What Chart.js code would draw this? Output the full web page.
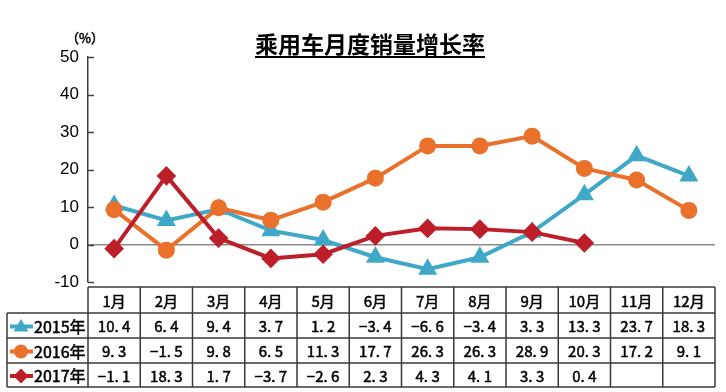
<!DOCTYPE html>
<html>
<head>
<meta charset="utf-8">
<script src="https://cdn.jsdelivr.net/npm/chart.js@4/dist/chart.umd.min.js"></script>
<style>
  html, body { margin: 0; padding: 0; background: #fff; }
  #wrap { width: 726px; height: 392px; }
</style>
</head>
<body>
<div id="wrap"><canvas id="chart" width="726" height="392"></canvas></div>
<script>
const months = ['1月', '2月', '3月', '4月', '5月', '6月', '7月', '8月', '9月', '10月', '11月', '12月'];
const sales2015 = [10.4, 6.4, 9.4, 3.7, 1.2, -3.4, -6.6, -3.4, 3.3, 13.3, 23.7, 18.3];
const sales2016 = [9.3, -1.5, 9.8, 6.5, 11.3, 17.7, 26.3, 26.3, 28.9, 20.3, 17.2, 9.1];
const sales2017 = [-1.1, 18.3, 1.7, -3.7, -2.6, 2.3, 4.3, 4.1, 3.3, 0.4, null, null];
const seriesNames = ['2015年', '2016年', '2017年'];
const yTicks = [50, 40, 30, 20, 10, 0, -10];

const teal = '#3fa8c6';
const orange = '#e9712b';
const red = '#bd1f2a';
const font = '"Noto Sans CJK SC", "Liberation Sans", sans-serif';

// draw one legend marker by hand in the table's first column
function drawMarker(ctx, style, x, y, color) {
  ctx.fillStyle = color;
  ctx.beginPath();
  if (style === 'triangle') {
    ctx.moveTo(x, y - 7.5);
    ctx.lineTo(x + 7.5, y + 5);
    ctx.lineTo(x - 7.5, y + 5);
  } else if (style === 'circle') {
    ctx.arc(x, y, 7, 0, Math.PI * 2);
  } else {
    ctx.moveTo(x, y - 7.5);
    ctx.lineTo(x + 7.5, y);
    ctx.lineTo(x, y + 7.5);
    ctx.lineTo(x - 7.5, y);
  }
  ctx.closePath();
  ctx.fill();
}

// text with a thin outline so it reads a bit heavier than regular
function heavyText(ctx, s, x, y) {
  ctx.fillText(s, x, y);
  ctx.lineWidth = 0.5;
  ctx.strokeStyle = '#000';
  ctx.strokeText(s, x, y);
}

const tablePlugin = {
  id: 'tablePlugin',
  afterDraw(chart) {
    const { ctx, chartArea, scales } = chart;
    const xs = scales.x, ys = scales.y;
    const colW = chartArea.width / months.length;

    ctx.save();

    // title with underline
    ctx.fillStyle = '#000';
    ctx.font = 'bold 23px ' + font;
    ctx.textAlign = 'center';
    ctx.textBaseline = 'alphabetic';
    const title = '乘用车月度销量增长率';
    const tx = 370;
    ctx.fillText(title, tx, 53);
    const tw = ctx.measureText(title).width;
    ctx.fillRect(tx - tw / 2, 56, tw, 2);

    // unit label
    ctx.font = '13px ' + font;
    heavyText(ctx, '（%）', chartArea.left - 3, 43);

    // inner tick marks on y axis
    ctx.strokeStyle = '#404040';
    ctx.lineWidth = 1.5;
    yTicks.forEach(v => {
      const y = Math.round(ys.getPixelForValue(v)) + 0.5;
      ctx.beginPath();
      ctx.moveTo(chartArea.left, y);
      ctx.lineTo(chartArea.left + 6, y);
      ctx.stroke();
    });

    // data table
    const rowTop = [287, 313, 338, 363];
    const rowBottom = 387;
    const labelLeft = 7;
    const left = chartArea.left, right = chartArea.right;
    ctx.strokeStyle = '#3a3a3a';
    ctx.lineWidth = 1.5;
    ctx.beginPath();
    ctx.moveTo(left, rowTop[0]); ctx.lineTo(right, rowTop[0]);
    for (let r = 1; r < rowTop.length; r++) {
      ctx.moveTo(labelLeft, rowTop[r]); ctx.lineTo(right, rowTop[r]);
    }
    ctx.moveTo(labelLeft, rowBottom); ctx.lineTo(right, rowBottom);
    ctx.moveTo(labelLeft, rowTop[1]); ctx.lineTo(labelLeft, rowBottom);
    for (let i = 0; i <= months.length; i++) {
      const x = left + i * colW;
      ctx.moveTo(x, rowTop[0]); ctx.lineTo(x, rowBottom);
    }
    ctx.stroke();

    ctx.fillStyle = '#000';
    ctx.textAlign = 'center';
    ctx.textBaseline = 'middle';
    ctx.font = '15px ' + font;
    months.forEach((m, i) => {
      heavyText(ctx, m, xs.getPixelForValue(i), (rowTop[0] + rowTop[1]) / 2 + 1);
    });

    const rows = [sales2015, sales2016, sales2017];
    const colors = [teal, orange, red];
    const styles = ['triangle', 'circle', 'rectRot'];
    rows.forEach((vals, r) => {
      const yTop = rowTop[r + 1];
      const yBot = r + 2 < rowTop.length ? rowTop[r + 2] : rowBottom;
      const cy = (yTop + yBot) / 2 + 1;
      ctx.font = '15px ' + font;
      ctx.fillStyle = '#000';
      vals.forEach((v, i) => {
        if (v === null) return;
        const s = (v < 0 ? '\u2212' : '') + Math.abs(v).toFixed(1).replace('.', '. ');
        heavyText(ctx, s, xs.getPixelForValue(i), cy);
      });
      // legend key
      ctx.strokeStyle = colors[r];
      ctx.lineWidth = 4;
      ctx.beginPath();
      ctx.moveTo(10, cy); ctx.lineTo(33, cy);
      ctx.stroke();
      drawMarker(ctx, styles[r], 21, cy, colors[r]);
      ctx.fillStyle = '#000';
      ctx.font = '16px ' + font;
      ctx.textAlign = 'left';
      heavyText(ctx, seriesNames[r], 34, cy);
      ctx.textAlign = 'center';
    });

    ctx.restore();
  }
};

new Chart(document.getElementById('chart'), {
  type: 'line',
  data: {
    labels: months,
    datasets: [
      {
        label: seriesNames[0],
        data: sales2015,
        borderColor: teal,
        backgroundColor: teal,
        pointStyle: 'triangle',
        pointRadius: 7,
        borderWidth: 4,
        order: 3
      },
      {
        label: seriesNames[1],
        data: sales2016,
        borderColor: orange,
        backgroundColor: orange,
        pointStyle: 'circle',
        pointRadius: 6.5,
        borderWidth: 4,
        order: 2
      },
      {
        label: seriesNames[2],
        data: sales2017,
        borderColor: red,
        backgroundColor: red,
        pointStyle: 'rectRot',
        pointRadius: 7,
        borderWidth: 4,
        order: 1
      }
    ]
  },
  options: {
    responsive: false,
    animation: false,
    layout: { padding: { top: 57, bottom: 110, left: 0, right: 10 } },
    plugins: {
      legend: { display: false },
      title: { display: false },
      tooltip: { enabled: false }
    },
    elements: {
      point: { borderWidth: 0 },
      line: { tension: 0 }
    },
    scales: {
      x: {
        display: false,
        offset: true
      },
      y: {
        min: -10,
        max: 50,
        afterFit: s => { s.width = 88; },
        ticks: {
          stepSize: 10,
          padding: 9,
          color: '#000',
          font: { family: '"Liberation Sans", Arial, sans-serif', size: 17 }
        },
        border: { display: true, color: '#404040', width: 1.5 },
        grid: {
          drawTicks: false,
          lineWidth: 1.5,
          color: c => (c.tick && c.tick.value === 0) ? '#8a8a8a' : 'rgba(0,0,0,0)'
        }
      }
    }
  },
  plugins: [tablePlugin]
});
</script>
</body>
</html>
